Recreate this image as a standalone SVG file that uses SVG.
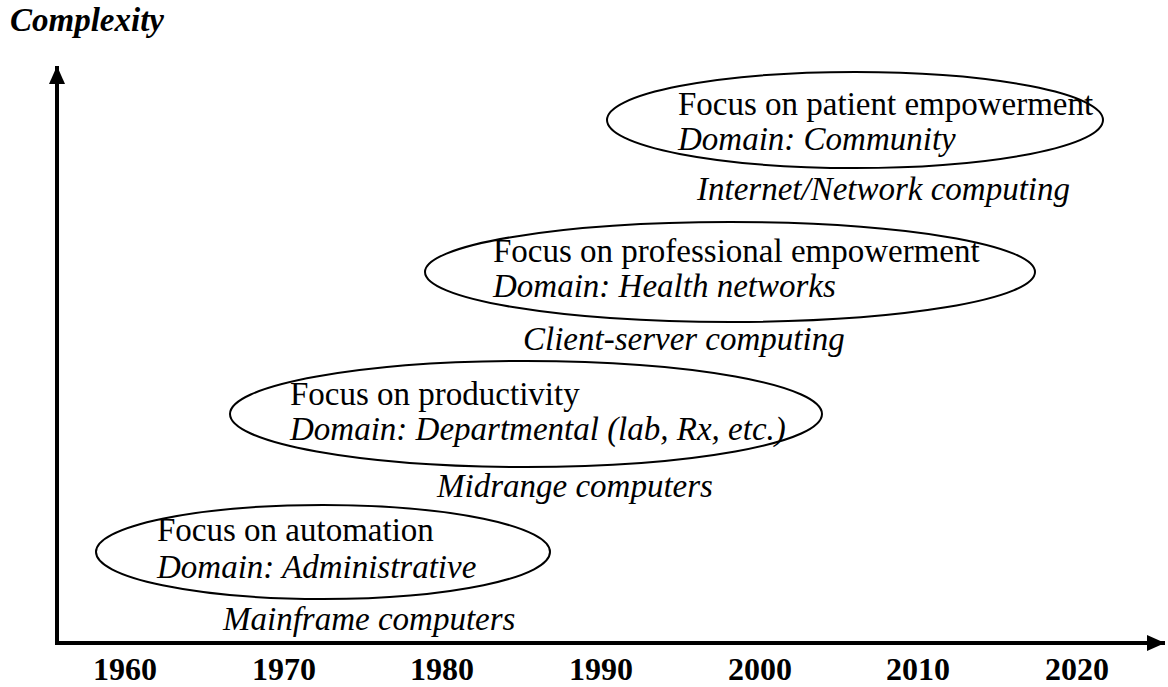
<svg xmlns="http://www.w3.org/2000/svg" width="1168" height="687" viewBox="0 0 1168 687">
<defs>
<style>
.t{font-family:"Liberation Serif","Times New Roman",serif;font-size:33px;fill:#000}
.i{font-style:italic}
.b{font-weight:bold}
.y{font-size:32px}
.e{fill:none;stroke:#000;stroke-width:2}
.ax{fill:none;stroke:#000;stroke-width:4}
</style>
<marker id="ah" markerUnits="userSpaceOnUse" markerWidth="20" markerHeight="16" refX="18" refY="8" orient="auto">
<path d="M0,0 L18,8 L0,16 Z" fill="#000"/>
</marker>
</defs>
<rect width="1168" height="687" fill="#fff"/>
<text class="t i b" x="10" y="31">Complexity</text>
<g id="axes">
<path class="ax" d="M57,643 L57,66" marker-end="url(#ah)"/>
<path class="ax" d="M55,643 L1165,643" marker-end="url(#ah)"/>
</g>
<g id="years" class="t b y" text-anchor="middle">
<text x="125" y="680">1960</text>
<text x="284" y="680">1970</text>
<text x="442" y="680">1980</text>
<text x="601" y="680">1990</text>
<text x="760" y="680">2000</text>
<text x="918" y="680">2010</text>
<text x="1077" y="680">2020</text>
</g>
<g id="n4">
<ellipse class="e" cx="855" cy="120" rx="248" ry="48"/>
<text class="t" x="678" y="115">Focus on patient empowerment</text>
<text class="t i" x="678" y="150">Domain: Community</text>
</g>
<text class="t i" x="697" y="200">Internet/Network computing</text>
<g id="n3">
<ellipse class="e" cx="730" cy="272" rx="305" ry="50"/>
<text class="t" x="493" y="262">Focus on professional empowerment</text>
<text class="t i" x="493" y="297">Domain: Health networks</text>
</g>
<text class="t i" x="523" y="350">Client-server computing</text>
<g id="n2">
<ellipse class="e" cx="526" cy="414" rx="296" ry="53"/>
<text class="t" x="290" y="405">Focus on productivity</text>
<text class="t i" x="290" y="440">Domain: Departmental (lab, Rx, etc.)</text>
</g>
<text class="t i" x="437" y="497">Midrange computers</text>
<g id="n1">
<ellipse class="e" cx="323" cy="552" rx="227" ry="47"/>
<text class="t" x="157" y="541">Focus on automation</text>
<text class="t i" x="157" y="578">Domain: Administrative</text>
</g>
<text class="t i" x="223" y="630">Mainframe computers</text>
</svg>
